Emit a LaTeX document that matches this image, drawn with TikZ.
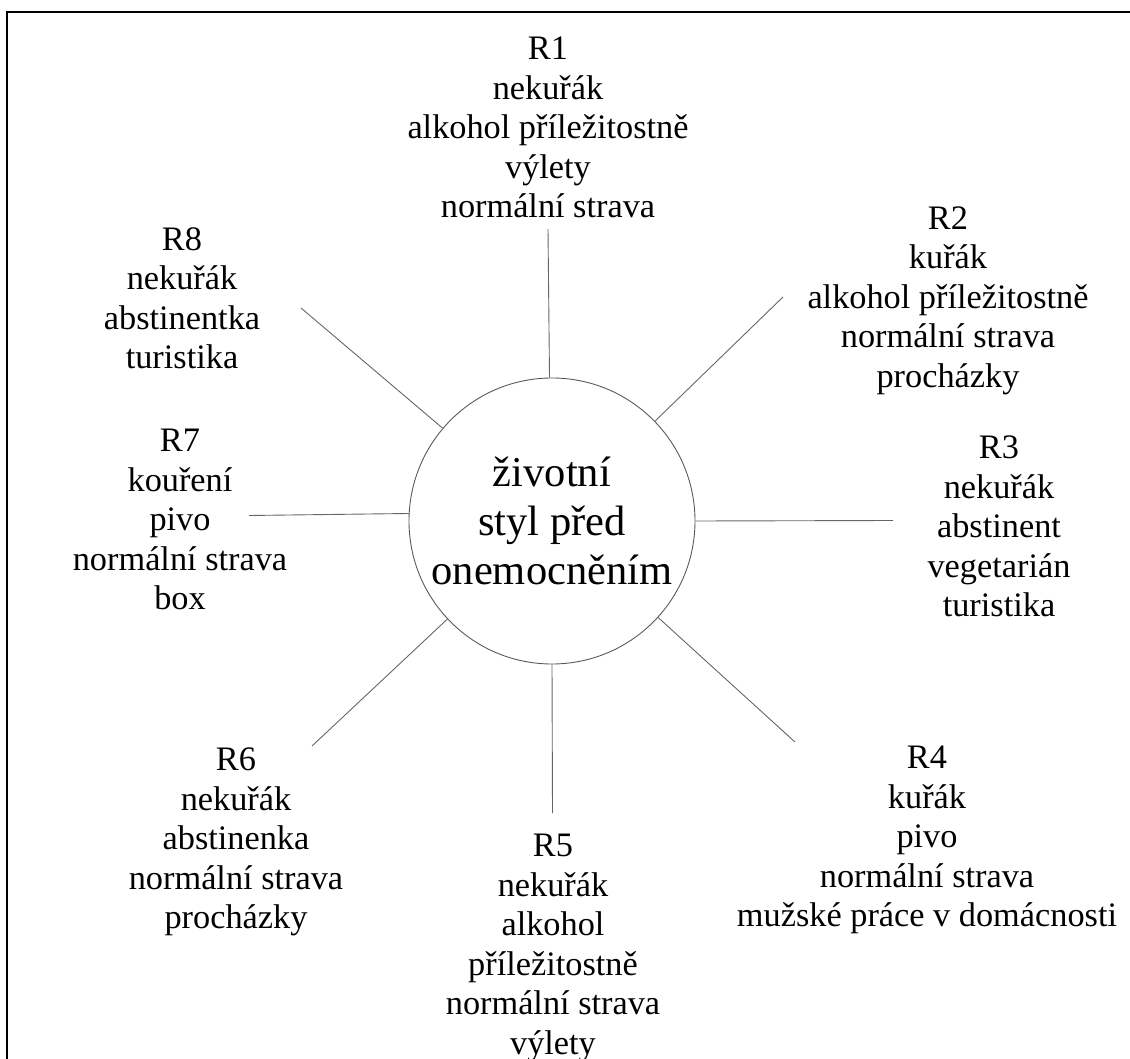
\documentclass[tikz,border=0pt]{standalone}
\usepackage{fontspec}
\setmainfont{Liberation Serif}
\begin{document}
\begin{tikzpicture}[x=1pt,y=-1pt,
  lbl/.style={align=center, inner sep=0pt, anchor=north,
    font=\fontsize{34.3}{39.5}\selectfont},
  hub/.style={circle, draw=black!65, line width=0.9pt, minimum size=286pt,
    inner sep=0pt, align=center, font=\fontsize{42.5}{48.9}\selectfont},
  spoke/.style={draw=black!60, line width=0.9pt}]
\useasboundingbox (0,0) rectangle (1130,1059);

% outer frame (only its left and top edges fall inside the page)
\draw[line width=2.2pt, line join=miter] (1135,12.3) -- (6.8,12.3) -- (6.8,1065);

% central topic
\node[hub] (c) at (552,521) {životní\\styl před\\onemocněním};

% free ends of the spokes
\coordinate (e1) at (548,229);
\coordinate (e2) at (783,297);
\coordinate (e3) at (893,520.5);
\coordinate (e4) at (795,742);
\coordinate (e5) at (552.5,813);
\coordinate (e6) at (312,746);
\coordinate (e7) at (249,515.5);
\coordinate (e8) at (301,308);

% spokes: axis-parallel ones leave the circle at fixed border angles
\draw[spoke] (c.91.6) -- (e1);
\draw[spoke] (c) -- (e2);
\draw[spoke] (c.0) -- (e3);
\draw[spoke] (c) -- (e4);
\draw[spoke] (c.270) -- (e5);
\draw[spoke] (c) -- (e6);
\draw[spoke] (c.177.8) -- (e7);
\draw[spoke] (c) -- (e8);

% respondents
\node[lbl] (r1) at (548,37) {R1\\nekuřák\\alkohol příležitostně\\výlety\\normální strava};
\node[lbl] (r2) at (948,206.5) {R2\\kuřák\\alkohol příležitostně\\normální strava\\procházky};
\node[lbl] (r3) at (999,436) {R3\\nekuřák\\abstinent\\vegetarián\\turistika};
\node[lbl] (r4) at (927,746) {R4\\kuřák\\pivo\\normální strava\\mužské práce v domácnosti};
\node[lbl] (r5) at (553,834) {R5\\nekuřák\\alkohol\\příležitostně\\normální strava\\výlety};
\node[lbl] (r6) at (236,748) {R6\\nekuřák\\abstinenka\\normální strava\\procházky};
\node[lbl] (r7) at (180,429) {R7\\kouření\\pivo\\normální strava\\box};
\node[lbl] (r8) at (182,227) {R8\\nekuřák\\abstinentka\\turistika};
\end{tikzpicture}
\end{document}
